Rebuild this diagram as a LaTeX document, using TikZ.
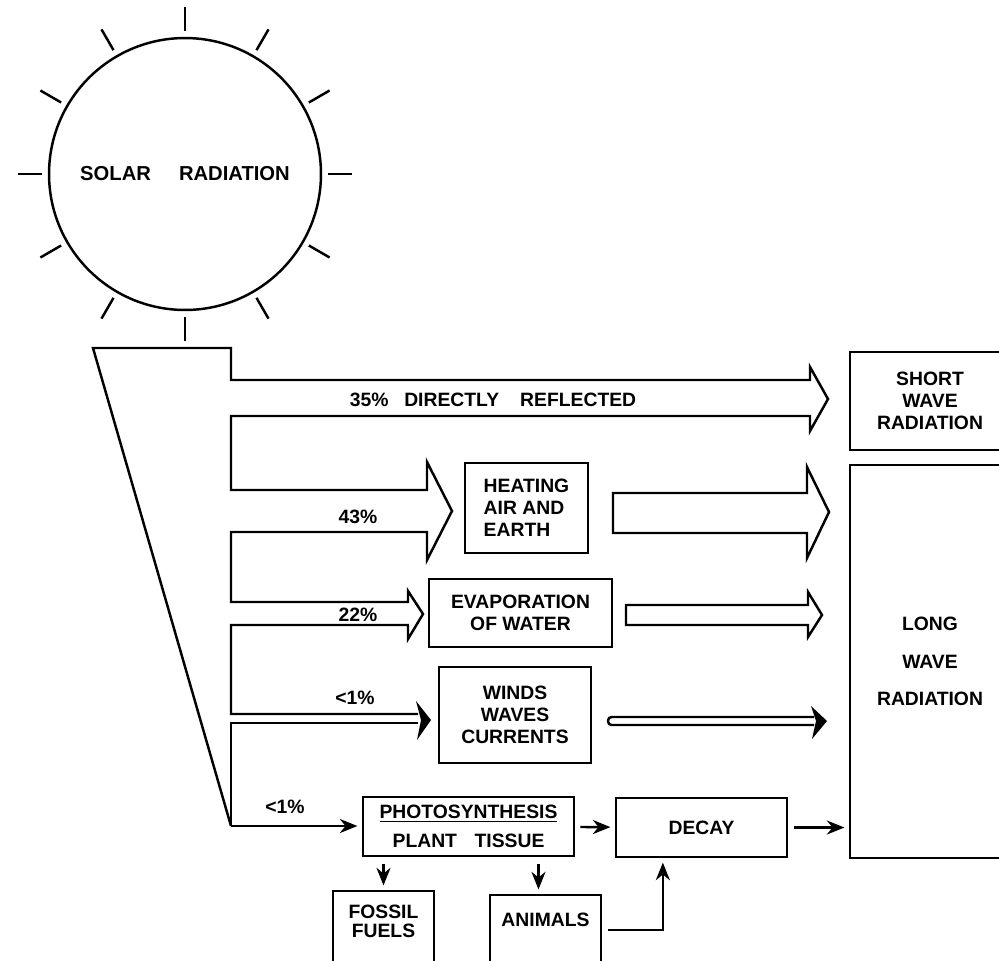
\documentclass[tikz,border=0pt]{standalone}
\usepackage{fontspec}
\setmainfont{Liberation Sans}
\usetikzlibrary{arrows.meta, positioning, calc}

\begin{document}
\begin{tikzpicture}[x=0.02cm, y=-0.02cm, line width=1.4pt, >={Stealth[length=10pt, width=8pt]}]
    % Define styles
    \tikzstyle{box} = [rectangle, draw, align=center, inner sep=0pt, font=\fontsize{11}{12.5}\selectfont\bfseries]
    \tikzstyle{pct} = [inner sep=0pt, font=\fontsize{11}{12.5}\selectfont\bfseries]
    \tikzstyle{conn} = [->, shorten <=3pt, shorten >=2.5pt]
    \tikzstyle{fat} = [line join=miter]

    \useasboundingbox (0,0) rectangle (999,960);
    \clip (0,0) rectangle (999,960);

    % Sun
    \node[circle, draw, minimum size=5.44cm, font=\fontsize{11.5}{13}\selectfont\bfseries] (sun) at (185,174) {SOLAR\hspace{16pt}RADIATION};
    \foreach \a in {0,30,...,330}
        \draw ([shift={(\a:143)}]sun.center) -- ([shift={(\a:167)}]sun.center);

    % Outgoing radiation
    \node[box, minimum width=3.2cm, minimum height=1.96cm] (short) at (930,401) {SHORT\\WAVE\\RADIATION};
    \node[box, minimum width=3.2cm, minimum height=7.86cm] (long) at (930,661.5) {LONG\\[9pt]WAVE\\[9pt]RADIATION};

    % Processes
    \node[box, align=left, minimum width=2.46cm, minimum height=1.8cm] (heat) at (526.5,508) {HEATING\\AIR AND\\EARTH};
    \node[box, minimum width=3.66cm, minimum height=1.36cm] (evap) at (520.5,613) {EVAPORATION\\OF WATER};
    \node[box, minimum width=3.04cm, minimum height=1.92cm] (winds) at (515,715) {WINDS\\WAVES\\CURRENTS};
    \node[box, minimum width=4.22cm, minimum height=1.18cm] (photo) at (468.5,826.5) {\underline{PHOTOSYNTHESIS}\\[4pt]PLANT\hspace{10pt}TISSUE};
    \node[box, minimum width=3.42cm, minimum height=1.18cm] (decay) at (701.5,827.5) {DECAY};
    \node[box, minimum width=2.02cm, minimum height=1.48cm, label={[pct, align=center, anchor=north, yshift=-8pt]north:FOSSIL\\[-2pt]FUELS}] (fossil) at (383.5,928) {};
    \node[box, minimum width=2.22cm, minimum height=1.4cm, label={[pct, anchor=north, yshift=-10pt]north:ANIMALS}] (animals) at (545.5,930) {};

    % Funnel with the incoming branches
    \coordinate (base) at (231,826);
    \draw[fat] (base) -- (93,348) -- (231,348) -- (231,380) -- (810,380) -- (810,367) -- (828,399) -- (810,431) -- (810,416)
        -- (231,416) -- (231,490) -- (427,490) -- (427,462) -- (452,511) -- (427,560) -- (427,532)
        -- (231,532) -- (231,602) -- (408,602) -- (408,591) -- (423,614) -- (408,639) -- (408,625)
        -- (231,625) -- (231,714) -- (418,714);
    \draw (418,723) -- (231,723) -- (base);
    \fill (416,701) -- (431,720) -- (417,740) -- (421,720) -- cycle;

    % Branches to long wave radiation
    \draw[fat] (613,493) -- (807,493) -- (807,467) -- (829,512) -- (807,558) -- (807,533) -- (613,533) -- cycle;
    \draw[fat] (626,605) -- (808,605) -- (808,592) -- (822,615) -- (808,637) -- (808,625) -- (626,625) -- cycle;
    \draw[rounded corners=2pt] (814,717) -- (608,717) -- (608,725) -- (814,725);
    \fill (811,706) -- (827,721) -- (812,739) -- (816,721) -- cycle;

    % Percentages
    \node[pct] (refl) at (493,400) {35\%\hspace{9pt}DIRECTLY\hspace{12pt}REFLECTED};
    \node[pct] (p43) at (358,517) {43\%};
    \node[pct] (p22) at (358,615) {22\%};
    \node[pct] (p1a) at (355,698) {<1\%};
    \node[pct] (p1b) at (285,807) {<1\%};

    % Connections
    \draw[conn, shorten <=0pt] (base) -- (base -| photo.west);
    \draw[conn] (photo) -- (decay);
    \draw[conn] (decay) -- (decay -| long.west);
    \draw[conn, shorten <=4pt] (fossil |- photo.south) -- (fossil.north);
    \draw[conn, shorten <=4pt] ([xshift=-4pt]animals.north |- photo.south) -- ([xshift=-4pt]animals.north);
    \draw[conn] (animals.east) -| ([xshift=-22pt]decay.south);
\end{tikzpicture}
\end{document}
